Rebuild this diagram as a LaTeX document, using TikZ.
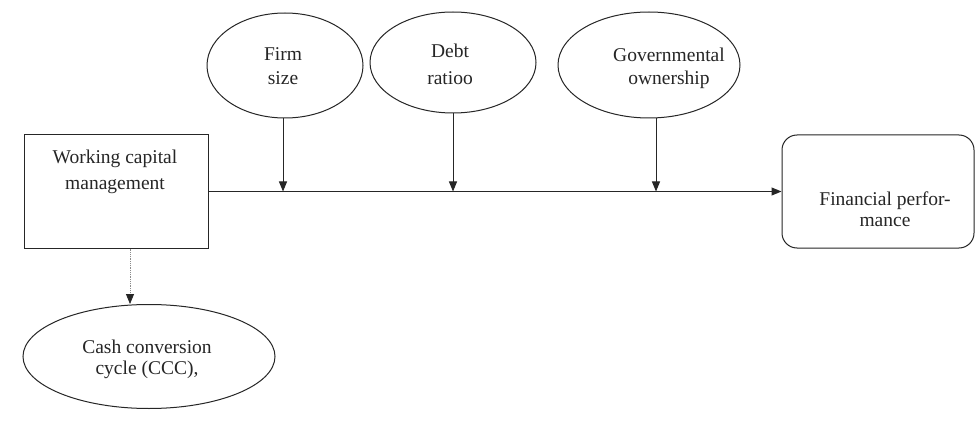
\documentclass[tikz,border=0pt]{standalone}
\usepackage{fontspec}
\setmainfont{Liberation Serif}
\usetikzlibrary{arrows.meta,shapes.geometric}
\begin{document}
\begin{tikzpicture}[x=1pt,y=-1pt,
  shp/.style={draw=black!85,line width=1pt,inner sep=0pt},
  oval/.style={shp,ellipse},
  txt/.style={align=center,inner sep=0pt,text=black!85,font=\fontsize{19.5}{#1}\selectfont},
  arr/.style={line width=1pt,draw=black!85,-{Triangle[width=8pt,length=10pt,color=black!85]}},
  dotarr/.style={line width=0.8pt,draw=black!45,densely dotted,-{Triangle[width=8pt,length=10pt,color=black!85]}}]
\useasboundingbox[fill=white] (0,0) rectangle (975,425);
% shapes
\node[shp,minimum width=184pt,minimum height=113pt] (wcm) at (116.5,191.5) {};
\node[shp,rounded corners=15pt,minimum width=192pt,minimum height=113pt] (fp) at (878,191.5) {};
\node[oval,minimum width=156pt,minimum height=105pt] (firm) at (285,65.5) {};
\node[oval,minimum width=166pt,minimum height=101pt] (debt) at (453,62.5) {};
\node[oval,minimum width=182pt,minimum height=106pt] (gov) at (649,65) {};
\node[oval,minimum width=252pt,minimum height=104pt] (ccc) at (149,356.5) {};
% texts
\node[txt=26] (wcmt) at (115,172) {Working capital\\management};
\node[txt=21] (fpt) at (885,209) {Financial perfor-\\mance};
\node[txt=24] (firmt) at (283,66) {Firm\\size};
\node[txt=27] (debtt) at (450,64.5) {Debt\\ratioo};
\node[txt=23] (govt) at (669,68) {Governmental\\ownership};
\node[txt=21] (ccct) at (147,359) {Cash conversion\\cycle (CCC),};
% helper coordinates
\coordinate (gx) at (656,0);
\coordinate (dx) at (130,0);
\coordinate (fx) at (283,0);
% connectors
\draw[arr] (wcm.east) -- (fp.west);
\draw[arr] (firm.south -| fx) -- (fx |- wcm.east);
\draw[arr] (debt.south) -- (debt.south |- wcm.east);
\draw[arr] (gov.south -| gx) -- (gx |- wcm.east);
\draw[dotarr] (wcm.south -| dx) -- (ccc.north -| dx);
\end{tikzpicture}
\end{document}
